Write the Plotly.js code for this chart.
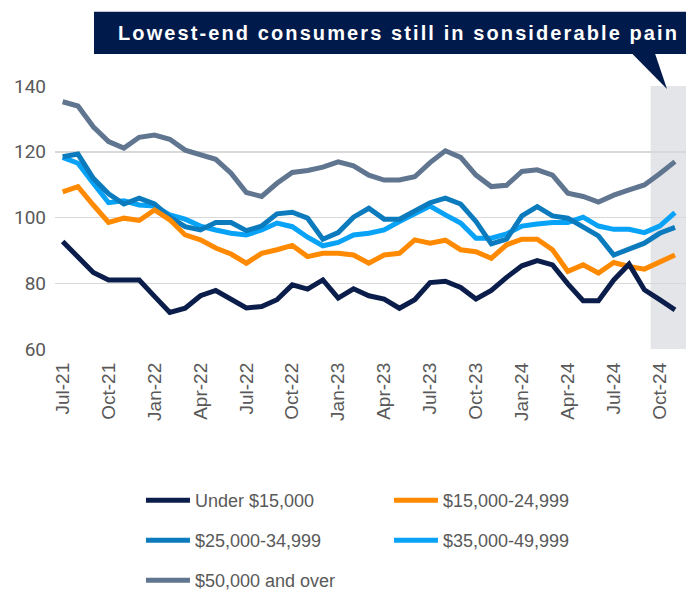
<!DOCTYPE html>
<html>
<head>
<meta charset="utf-8">
<script src="https://cdn.plot.ly/plotly-3.0.1.min.js"></script>
<style>
html,body{margin:0;padding:0;background:#fff;}
#chart{width:686px;height:590px;}
.annotation-text{letter-spacing:2.1px;}
</style>
</head>
<body>
<div id="chart"></div>
<script>
const months = ['Jul-21','Aug-21','Sep-21','Oct-21','Nov-21','Dec-21','Jan-22','Feb-22','Mar-22','Apr-22','May-22','Jun-22',
  'Jul-22','Aug-22','Sep-22','Oct-22','Nov-22','Dec-22','Jan-23','Feb-23','Mar-23','Apr-23','May-23','Jun-23',
  'Jul-23','Aug-23','Sep-23','Oct-23','Nov-23','Dec-23','Jan-24','Feb-24','Mar-24','Apr-24','May-24','Jun-24',
  'Jul-24','Aug-24','Sep-24','Oct-24','Nov-24'];
const tickLabels = ['Jul-21','Oct-21','Jan-22','Apr-22','Jul-22','Oct-22','Jan-23','Apr-23','Jul-23','Oct-23','Jan-24','Apr-24','Jul-24','Oct-24'];

const seriesNames = ['Under $15,000','$15,000-24,999','$25,000-34,999','$35,000-49,999','$50,000 and over'];

const under15 = [92.7,87.9,83.3,81.0,81.0,81.0,76.0,71.1,72.4,76.2,77.8,75.2,72.5,72.9,75.0,79.5,78.2,81.0,75.5,78.3,76.2,75.2,72.4,75.0,80.2,80.6,78.7,75.2,77.8,81.8,85.3,86.9,85.6,79.8,74.7,74.7,81.0,85.8,78.0,75.0,71.9];
const inc15to25 = [107.8,109.4,103.8,98.5,99.8,99.1,102.3,99.3,94.7,93.2,90.7,88.9,86.1,89.1,90.2,91.5,88.1,89.1,89.1,88.6,86.1,88.6,89.1,93.2,92.2,93.1,90.2,89.6,87.6,91.7,93.4,93.4,90.2,83.6,85.6,83.1,86.3,85.1,84.3,86.3,88.6];
const inc25to35 = [118.5,119.3,111.9,107.2,104.1,105.9,104.1,100.1,97.2,96.2,98.5,98.5,96.0,97.4,101.1,101.6,99.8,93.4,95.4,100.1,102.8,99.5,99.5,102.1,104.5,105.9,104.1,98.8,92.0,93.4,100.5,103.3,100.5,99.8,97.2,94.4,88.6,90.3,92.2,95.2,97.0];
const inc35to50 = [118.3,116.5,110.4,104.5,105.1,103.8,103.5,100.8,99.5,97.4,96.2,95.2,94.7,96.2,98.3,97.2,94.0,91.4,92.4,94.7,95.2,96.2,98.8,101.3,103.5,100.8,98.3,93.7,93.7,95.0,97.4,98.0,98.5,98.5,100.1,97.4,96.4,96.4,95.4,97.4,101.5];
const inc50plus = [135.2,133.9,127.6,123.1,121.1,124.4,125.1,123.8,120.5,119.0,117.7,113.5,107.6,106.4,110.4,113.7,114.3,115.3,116.9,115.7,112.9,111.4,111.4,112.4,116.7,120.3,118.3,112.9,109.4,109.8,114.0,114.5,112.9,107.4,106.4,104.7,106.8,108.4,109.9,113.3,117.0];

const titleText = 'Lowest-end consumers still in sonsiderable pain';

const colors = ['#0b1d4a','#ff8a00','#0b7bbd','#08a2f7','#60758f'];
const values = [under15, inc15to25, inc25to35, inc35to50, inc50plus];
const legendIds = ['legend','legend','legend2','legend2','legend3'];
const drawOrder = [4,3,2,1,0];

const traces = drawOrder.map(i => ({
  type: 'scatter', mode: 'lines',
  x: months, y: values[i], name: seriesNames[i],
  line: {color: colors[i], width: 5, shape: 'linear'},
  legend: legendIds[i], legendrank: i,
  hoverinfo: 'skip'
}));

const legendFont = {family: '"Liberation Sans", Arial, sans-serif', size: 18, color: '#595959'};
function legendAt(yTop){
  return {orientation: 'h', xref: 'container', yref: 'container', x: 0.2055, xanchor: 'left',
    y: yTop, yanchor: 'top', font: legendFont, itemwidth: 44, entrywidth: 189, entrywidthmode: 'pixels',
    bgcolor: 'rgba(0,0,0,0)', traceorder: 'normal'};
}

const navy = '#001a4b';
const layout = {
  width: 686, height: 590,
  margin: {l: 55, r: 0, t: 86, b: 241, autoexpand: false},
  paper_bgcolor: '#ffffff', plot_bgcolor: '#ffffff',
  showlegend: true,
  legend: legendAt(1 - 482/590),
  legend2: legendAt(1 - 522/590),
  legend3: legendAt(1 - 562/590),
  xaxis: {
    type: 'category', range: [-0.5, 40.72], showgrid: false, zeroline: false, showline: false,
    tickmode: 'array', tickvals: tickLabels, ticktext: tickLabels, tickangle: -90, ticks: '',
    ticklabelstandoff: 9,
    tickfont: {family: '"Liberation Sans", Arial, sans-serif', size: 19, color: '#595959'}
  },
  yaxis: {
    range: [60, 140], dtick: 20, tick0: 60, showgrid: true, gridcolor: '#d9d9d9', gridwidth: 1.5,
    zeroline: false, showline: false, ticks: '', ticklabelstandoff: 8,
    tickfont: {family: 'Roboto, "Liberation Sans", sans-serif', size: 19, color: '#595959'}
  },
  shapes: [
    {type: 'rect', xref: 'paper', yref: 'paper', x0: 0.944, x1: 1, y0: 0, y1: 1,
      fillcolor: '#e4e5e8', line: {width: 0}, layer: 'below'},
    {type: 'rect', xref: 'paper', yref: 'paper', x0: 0.0618, x1: 1.0, y0: 1.1215, y1: 1.2822,
      fillcolor: navy, line: {width: 0}, layer: 'above'},
    {type: 'path', xref: 'paper', yref: 'paper', path: 'M0.9144,1.1235 L0.9509,1.1235 L0.9699,0.9886 Z',
      fillcolor: navy, line: {width: 0}, layer: 'above'}
  ],
  annotations: [
    {xref: 'paper', yref: 'paper', x: 0.0967, y: 1.2013, xanchor: 'left', yanchor: 'middle',
      text: titleText, showarrow: false,
      font: {family: '"Liberation Sans", Arial, sans-serif', size: 20, color: '#ffffff', weight: 'bold'}}
  ]
};

Plotly.newPlot('chart', traces, layout, {staticPlot: true, displayModeBar: false});
</script>
</body>
</html>
